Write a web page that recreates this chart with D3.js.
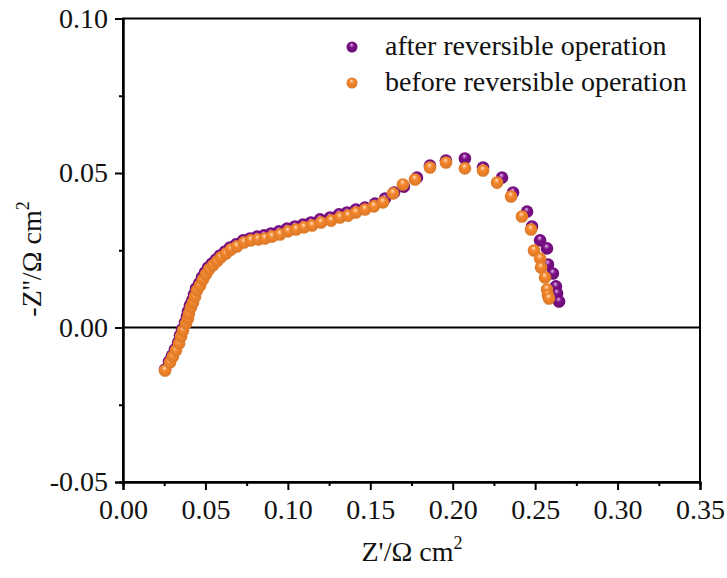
<!DOCTYPE html>
<html>
<head>
<meta charset="utf-8">
<script src="https://cdn.jsdelivr.net/npm/d3@7"></script>
<style>
  html, body { margin: 0; padding: 0; background: #fff; }
  svg { display: block; }
  svg text { font-family: "Liberation Serif", "Times New Roman", serif; fill: #111; }
</style>
</head>
<body>
<svg id="chart" width="727" height="578"></svg>
<script>
// Nyquist plot: impedance spectra before and after reversible operation
const seriesNames = ["after reversible operation", "before reversible operation"];
const seriesColors = ["#7a0f86", "#f4862c"];
const seriesHighlights = ["#e6b8ec", "#ffe2c4"];

// Z' (Ω cm²) and -Z'' (Ω cm²), after reversible operation
const afterZre = [0.0255, 0.0279, 0.0297, 0.0315, 0.0334, 0.0346, 0.0358, 0.0376, 0.0388, 0.0394,
  0.0406, 0.0419, 0.0431, 0.0443, 0.0461, 0.0479, 0.0497, 0.0516, 0.0540, 0.0564,
  0.0588, 0.0619, 0.0649, 0.0685, 0.0728, 0.0770, 0.0813, 0.0855, 0.0898, 0.0946,
  0.0995, 0.1043, 0.1092, 0.1140, 0.1195, 0.1256, 0.1310, 0.1359, 0.1413, 0.1468,
  0.1529, 0.1589, 0.1644, 0.1704, 0.1783, 0.1862, 0.1959, 0.2074, 0.2184, 0.2299,
  0.2366, 0.2451, 0.2481, 0.2530, 0.2572, 0.2578, 0.2608, 0.2626, 0.2633, 0.2645];
const afterZim = [-0.0136, -0.0110, -0.0091, -0.0071, -0.0049, -0.0026, -0.0006, 0.0016, 0.0036, 0.0052,
  0.0071, 0.0087, 0.0107, 0.0126, 0.0142, 0.0162, 0.0178, 0.0194, 0.0207, 0.0220,
  0.0233, 0.0246, 0.0259, 0.0269, 0.0282, 0.0288, 0.0294, 0.0298, 0.0304, 0.0311,
  0.0320, 0.0327, 0.0333, 0.0340, 0.0350, 0.0356, 0.0366, 0.0372, 0.0382, 0.0388,
  0.0401, 0.0417, 0.0437, 0.0456, 0.0485, 0.0524, 0.0540, 0.0547, 0.0518, 0.0485,
  0.0437, 0.0375, 0.0327, 0.0282, 0.0256, 0.0204, 0.0175, 0.0133, 0.0110, 0.0084];

// Z' (Ω cm²) and -Z'' (Ω cm²), before reversible operation
const beforeZre = [0.0255, 0.0285, 0.0303, 0.0321, 0.0340, 0.0352, 0.0364, 0.0382, 0.0394, 0.0400,
  0.0412, 0.0425, 0.0437, 0.0449, 0.0467, 0.0485, 0.0503, 0.0522, 0.0546, 0.0570,
  0.0594, 0.0625, 0.0655, 0.0691, 0.0734, 0.0776, 0.0819, 0.0861, 0.0904, 0.0952,
  0.1001, 0.1050, 0.1098, 0.1147, 0.1201, 0.1262, 0.1316, 0.1365, 0.1413, 0.1468,
  0.1522, 0.1577, 0.1638, 0.1698, 0.1771, 0.1862, 0.1959, 0.2074, 0.2184, 0.2269,
  0.2354, 0.2420, 0.2475, 0.2493, 0.2530, 0.2536, 0.2560, 0.2572, 0.2578, 0.2584];
const beforeZim = [-0.0139, -0.0113, -0.0094, -0.0074, -0.0052, -0.0029, -0.0010, 0.0013, 0.0029, 0.0045,
  0.0065, 0.0081, 0.0100, 0.0120, 0.0136, 0.0155, 0.0172, 0.0188, 0.0201, 0.0214,
  0.0227, 0.0239, 0.0252, 0.0262, 0.0275, 0.0282, 0.0285, 0.0288, 0.0294, 0.0301,
  0.0311, 0.0317, 0.0324, 0.0330, 0.0340, 0.0346, 0.0356, 0.0362, 0.0372, 0.0382,
  0.0392, 0.0405, 0.0434, 0.0463, 0.0479, 0.0518, 0.0534, 0.0515, 0.0508, 0.0469,
  0.0424, 0.0359, 0.0317, 0.0249, 0.0223, 0.0194, 0.0162, 0.0123, 0.0104, 0.0094];

const xTicks = [0.00, 0.05, 0.10, 0.15, 0.20, 0.25, 0.30, 0.35];
const yTicks = [-0.05, 0.00, 0.05, 0.10];
const xMinorTicks = [0.025, 0.075, 0.125, 0.175, 0.225, 0.275, 0.325];
const yMinorTicks = [-0.025, 0.025, 0.075];

const FONT = "Liberation Serif, Times New Roman, serif";
const FS = 28;

const svg = d3.select("#chart");
const margin = { left: 123, right: 27, top: 18.5, bottom: 96 };
const W = 727, H = 578;

const x = d3.scaleLinear().domain([0, 0.35]).range([margin.left, W - margin.right]);
const y = d3.scaleLinear().domain([-0.05, 0.10]).range([H - margin.bottom, margin.top]);

// sphere-like marker fills
const defs = svg.append("defs");
seriesColors.forEach((c, i) => {
  const g = defs.append("radialGradient")
    .attr("id", "ball" + i)
    .attr("cx", "50%").attr("cy", "50%").attr("r", "60%")
    .attr("fx", "45%").attr("fy", "28%");
  g.append("stop").attr("offset", "0%").attr("stop-color", seriesHighlights[i]);
  g.append("stop").attr("offset", "35%").attr("stop-color", c);
  g.append("stop").attr("offset", "100%").attr("stop-color", d3.color(c).darker(0.4));
});

const fmt = v => v.toFixed(2);

// frame
svg.append("rect")
  .attr("x", x(0)).attr("y", y(0.10))
  .attr("width", x(0.35) - x(0)).attr("height", y(-0.05) - y(0.10))
  .attr("fill", "none").attr("stroke", "#000").attr("stroke-width", 2);

// bottom axis
const xAxis = svg.append("g")
  .attr("transform", `translate(0,${y(-0.05)})`)
  .attr("font-family", FONT).attr("font-size", FS)
  .call(d3.axisBottom(x).tickValues(xTicks).tickSize(8).tickFormat(fmt));
xAxis.append("g").call(d3.axisBottom(x).tickValues(xMinorTicks).tickSize(4).tickFormat(""));
xAxis.attr("font-family", FONT).attr("font-size", FS);
xAxis.selectAll(".tick text").attr("y", 37).attr("dy", 0);

// left axis
const yAxis = svg.append("g")
  .attr("transform", `translate(${x(0)},0)`)
  .call(d3.axisLeft(y).tickValues(yTicks).tickSize(8).tickPadding(7).tickFormat(fmt));
yAxis.append("g").call(d3.axisLeft(y).tickValues(yMinorTicks).tickSize(4).tickFormat(""));
yAxis.attr("font-family", FONT).attr("font-size", FS);

svg.selectAll(".domain").attr("stroke", "#000").attr("stroke-width", 2);
svg.selectAll(".tick line").attr("stroke", "#000").attr("stroke-width", 2);
svg.selectAll(".tick text").attr("fill", "#111");

// zero line
svg.append("line")
  .attr("x1", x(0)).attr("x2", x(0.35))
  .attr("y1", y(0)).attr("y2", y(0))
  .attr("stroke", "#000").attr("stroke-width", 2);

// data markers
const series = [
  d3.zip(afterZre, afterZim),
  d3.zip(beforeZre, beforeZim)
];
series.forEach((pts, i) => {
  svg.append("g").selectAll("circle").data(pts).join("circle")
    .attr("cx", d => x(d[0]))
    .attr("cy", d => y(d[1]))
    .attr("r", 6.3)
    .attr("fill", `url(#ball${i})`);
});

// legend
const legend = svg.append("g").attr("font-family", FONT);
seriesNames.forEach((name, i) => {
  const ly = 47 + i * 36;
  legend.append("circle").attr("cx", 352).attr("cy", ly).attr("r", 5.5)
    .attr("fill", `url(#ball${i})`);
  legend.append("text").attr("x", 385).attr("y", ly + 8)
    .attr("font-size", FS).text(name);
});

// axis titles
const xt = svg.append("text")
  .attr("x", 412).attr("y", 561)
  .attr("text-anchor", "middle").attr("font-size", FS);
xt.append("tspan").text("Z'/Ω cm");
xt.append("tspan").attr("dy", -12).attr("font-size", 18).text("2");

const yt = svg.append("text")
  .attr("transform", "translate(41,259) rotate(-90)")
  .attr("text-anchor", "middle").attr("font-size", FS);
yt.append("tspan").text("-Z''/Ω cm");
yt.append("tspan").attr("dy", -12).attr("font-size", 18).text("2");
</script>
</body>
</html>
